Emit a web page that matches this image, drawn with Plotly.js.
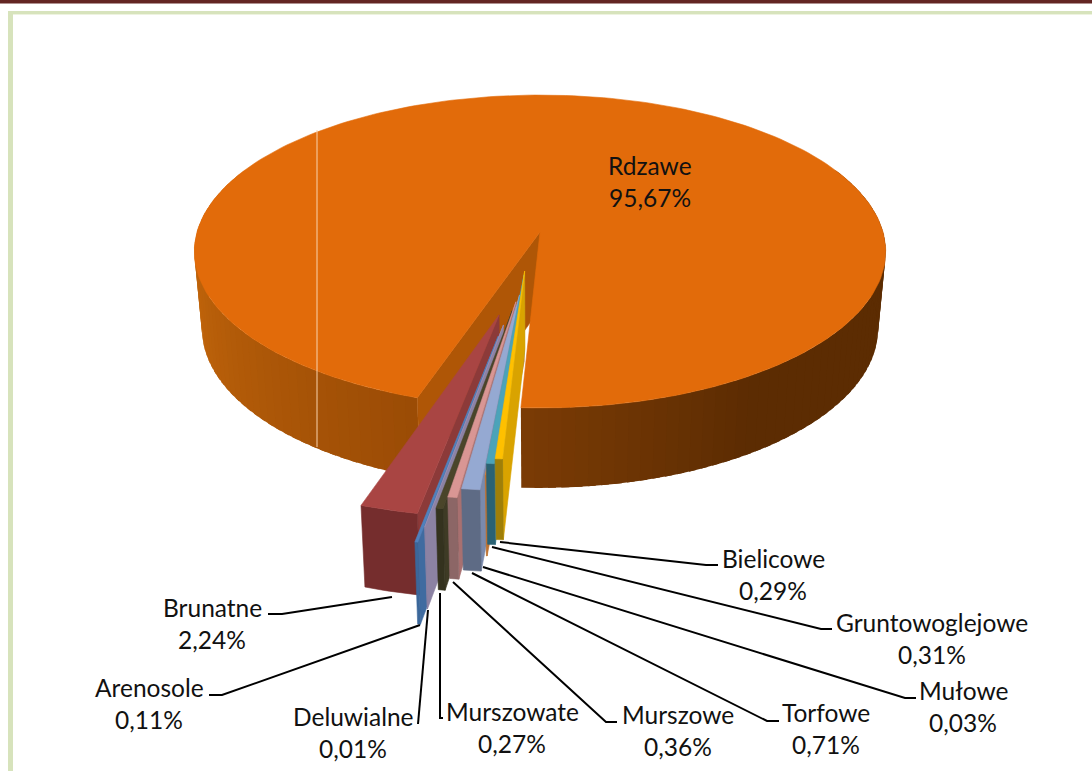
<!DOCTYPE html>
<html>
<head>
<meta charset="utf-8">
<script src="https://cdn.plot.ly/plotly-3.0.1.min.js"></script>
<style>html,body{margin:0;padding:0;background:#fff}#chart{width:1092px;height:771px}</style>
</head>
<body>
<div id="chart"></div>
<script>
// ---------- data, in slice order (clockwise from the front of the big slice) ----------
const categories = ["Rdzawe","Brunatne","Arenosole","Deluwialne","Murszowate","Murszowe","Torfowe","Mułowe","Gruntowoglejowe","Bielicowe"];
const values     = [95.67, 2.24, 0.11, 0.01, 0.27, 0.36, 0.71, 0.03, 0.31, 0.29];

// ---------- style ----------
const topColors   = ["#E26B0A","#A94543","#4F81BD","#9E90B8","#4A452A","#D99694","#95A9D2","#D2823C","#4BA3B9","#FFC000"];
const sideColors  = ["#AF5606","#8C3A39","#3F6BA0","#8C82A3","#3E3B25","#A87070","#7A8AAD","#BE7230","#3E8DA3","#D9A300"];
const frontColors = ["#7A3B05","#752D2D","#3B679A","#8C82A3","#34321E","#8C6666","#5E6B85","#BE7230","#2A6274","#9F7F08"];
// explosion of each slice: distance in radii and direction in degrees from the viewer axis
const explodeDist = [0, 0.517, 0.635, 0.57, 0.486, 0.434, 0.393, 0.325, 0.273, 0.25];
const explodeDir  = [0, -12.5, -10.2, -10, -9, -8.8, -8.3, -8, -9.5, -10];

// ---------- label layout ----------
const labelX = [650,212,149,353,512,678,826,963,932,773];
const labelY = [165,607,687,716,711,714,712,690,622,558];
const leaderX = [null,[392,282,268],[420,222,209],[428,418],[440,440,443],[453,606,617],[472,767,779],[483,905,916],[492,821,832],[500,706,718]];
const leaderY = [null,[597,614,614],[625,695,695],[610,724],[593,718,718],[582,722,722],[573,721,721],[567,698,698],[547,629,629],[542,565,565]];

// ---------- projection of the pie's plane onto the page ----------
const CX=540, CY=232, A=343, B=154, K=0.1246, WALL=80, SHRINK=0.978;
function project(u,v,bottom){
  const w=1-K*v;
  const x=CX+A*u/w, y=CY+B*v/w;
  if(!bottom) return [x,y];
  return [CX+(x-CX)*SHRINK, y+WALL*Math.pow(0.875/w,0.3)];
}
const rad=d=>d*Math.PI/180;
function rim(au,av,deg,bottom){return project(au+Math.sin(rad(deg)),av+Math.cos(rad(deg)),bottom);}
function poly(points,color,lw){
  return {type:"scatter",mode:"lines",x:points.map(p=>p[0]).concat(points[0][0]),y:points.map(p=>p[1]).concat(points[0][1]),
    fill:"toself",fillcolor:color,line:{color:color,width:lw===undefined?0.6:lw},hoverinfo:"skip",showlegend:false};
}
function mix(c1,c2,t){
  const a=[1,3,5].map(i=>parseInt(c1.substr(i,2),16)),b=[1,3,5].map(i=>parseInt(c2.substr(i,2),16));
  return "rgb("+a.map((q,i)=>Math.round(q+(b[i]-q)*t)).join(",")+")";
}

const traces=[];
const START=-2.8;              // edge of the big slice near the front
const total=values.reduce((a,b)=>a+b,0);
const deg=values.map(v=>v/total*360);

// big slice: outer wall strips
const END=START+deg[0];
function wallStrips(from,to,colorAt){
  const step=(to-from)/Math.ceil((to-from)/2);
  for(let t=from;t<to-1e-6;t+=step){
    const next=Math.min(to,t+step*1.6);   // each strip underlaps the next so no seams show
    traces.push(poly([rim(0,0,t),rim(0,0,next),rim(0,0,next,true),rim(0,0,t,true)],colorAt(t),0));
  }
}
wallStrips(START,115,t=>mix("#7A3B05","#5C2C02",Math.min(1,(t-START)/35)));
wallStrips(245,END,t=>mix("#C96A0C","#9A4B05",Math.max(0,(t-265)/(END-265))));
// big slice: inner wall seen through the gap
traces.push(poly([project(0,0),rim(0,0,END),rim(0,0,END,true),project(0,0,true)],sideColors[0]));
// big slice: top
const topPts=[project(0,0)];
for(let i=0;i<=240;i++) topPts.push(rim(0,0,START+deg[0]*i/240));
traces.push(poly(topPts,topColors[0]));

// pale seam running over the big slice
const seamX=[317,317], seamY=[130,447];
traces.push({type:"scatter",mode:"lines",x:seamX,y:seamY,line:{color:"#F8D3AE",width:1},hoverinfo:"skip",showlegend:false});

// exploded slices, each from the values, left to right
const edges=[];let run=END;
for(let i=1;i<values.length;i++){edges[i]=[run,run+deg[i]];run+=deg[i];}
for(let i=1;i<values.length;i++){
  const au=explodeDist[i]*Math.sin(rad(explodeDir[i])), av=explodeDist[i]*Math.cos(rad(explodeDir[i]));
  const [a0,a1]=edges[i];
  const n=Math.max(2,Math.ceil(a1-a0));
  const arcT=[],arcB=[];
  for(let j=0;j<=n;j++){const t=a0+(a1-a0)*j/n;arcT.push(rim(au,av,t));arcB.push(rim(au,av,t,true));}
  traces.push(poly([project(au,av),arcT[n],arcB[n],project(au,av,true)],sideColors[i]));
  traces.push(poly(arcT.concat(arcB.slice().reverse()),frontColors[i]));
  traces.push(poly([project(au,av)].concat(arcT),topColors[i]));
}

// leader lines
for(let i=1;i<categories.length;i++){
  traces.push({type:"scatter",mode:"lines",x:leaderX[i],y:leaderY[i],line:{color:"#000",width:2},hoverinfo:"skip",showlegend:false});
}

// labels
const FONT={family:"Lato, 'Open Sans', sans-serif",size:24.5,color:"#111"};
const annotations=[];
categories.forEach((c,i)=>{
  const pct=values[i].toFixed(2).replace(".",",")+"%";
  annotations.push({x:labelX[i],y:labelY[i],xref:"x",yref:"y",text:c,showarrow:false,font:FONT,xanchor:"center",yanchor:"middle"});
  annotations.push({x:labelX[i],y:labelY[i]+32,xref:"x",yref:"y",text:pct,showarrow:false,font:FONT,xanchor:"center",yanchor:"middle"});
});

const shapes=[
  {type:"rect",xref:"x",yref:"y",x0:0,x1:1092,y0:0,y1:3.5,fillcolor:"#632523",line:{width:0},layer:"below"},
  {type:"rect",xref:"x",yref:"y",x0:8,x1:1092,y0:11,y1:14,fillcolor:"#D7E3BC",line:{width:0},layer:"below"},
  {type:"rect",xref:"x",yref:"y",x0:8,x1:13,y0:11,y1:771,fillcolor:"#D7E3BC",line:{width:0},layer:"below"},
  {type:"rect",xref:"x",yref:"y",x0:13,x1:1092,y0:14,y1:15,fillcolor:"#EEF3E0",line:{width:0},layer:"below"}
];

Plotly.newPlot("chart",traces,{
  width:1092,height:771,margin:{l:0,r:0,t:0,b:0},
  paper_bgcolor:"#fff",plot_bgcolor:"#fff",showlegend:false,
  xaxis:{range:[0,1092],visible:false,fixedrange:true},
  yaxis:{range:[771,0],visible:false,fixedrange:true},
  annotations,shapes
},{displayModeBar:false,staticPlot:true});
</script>
</body>
</html>
